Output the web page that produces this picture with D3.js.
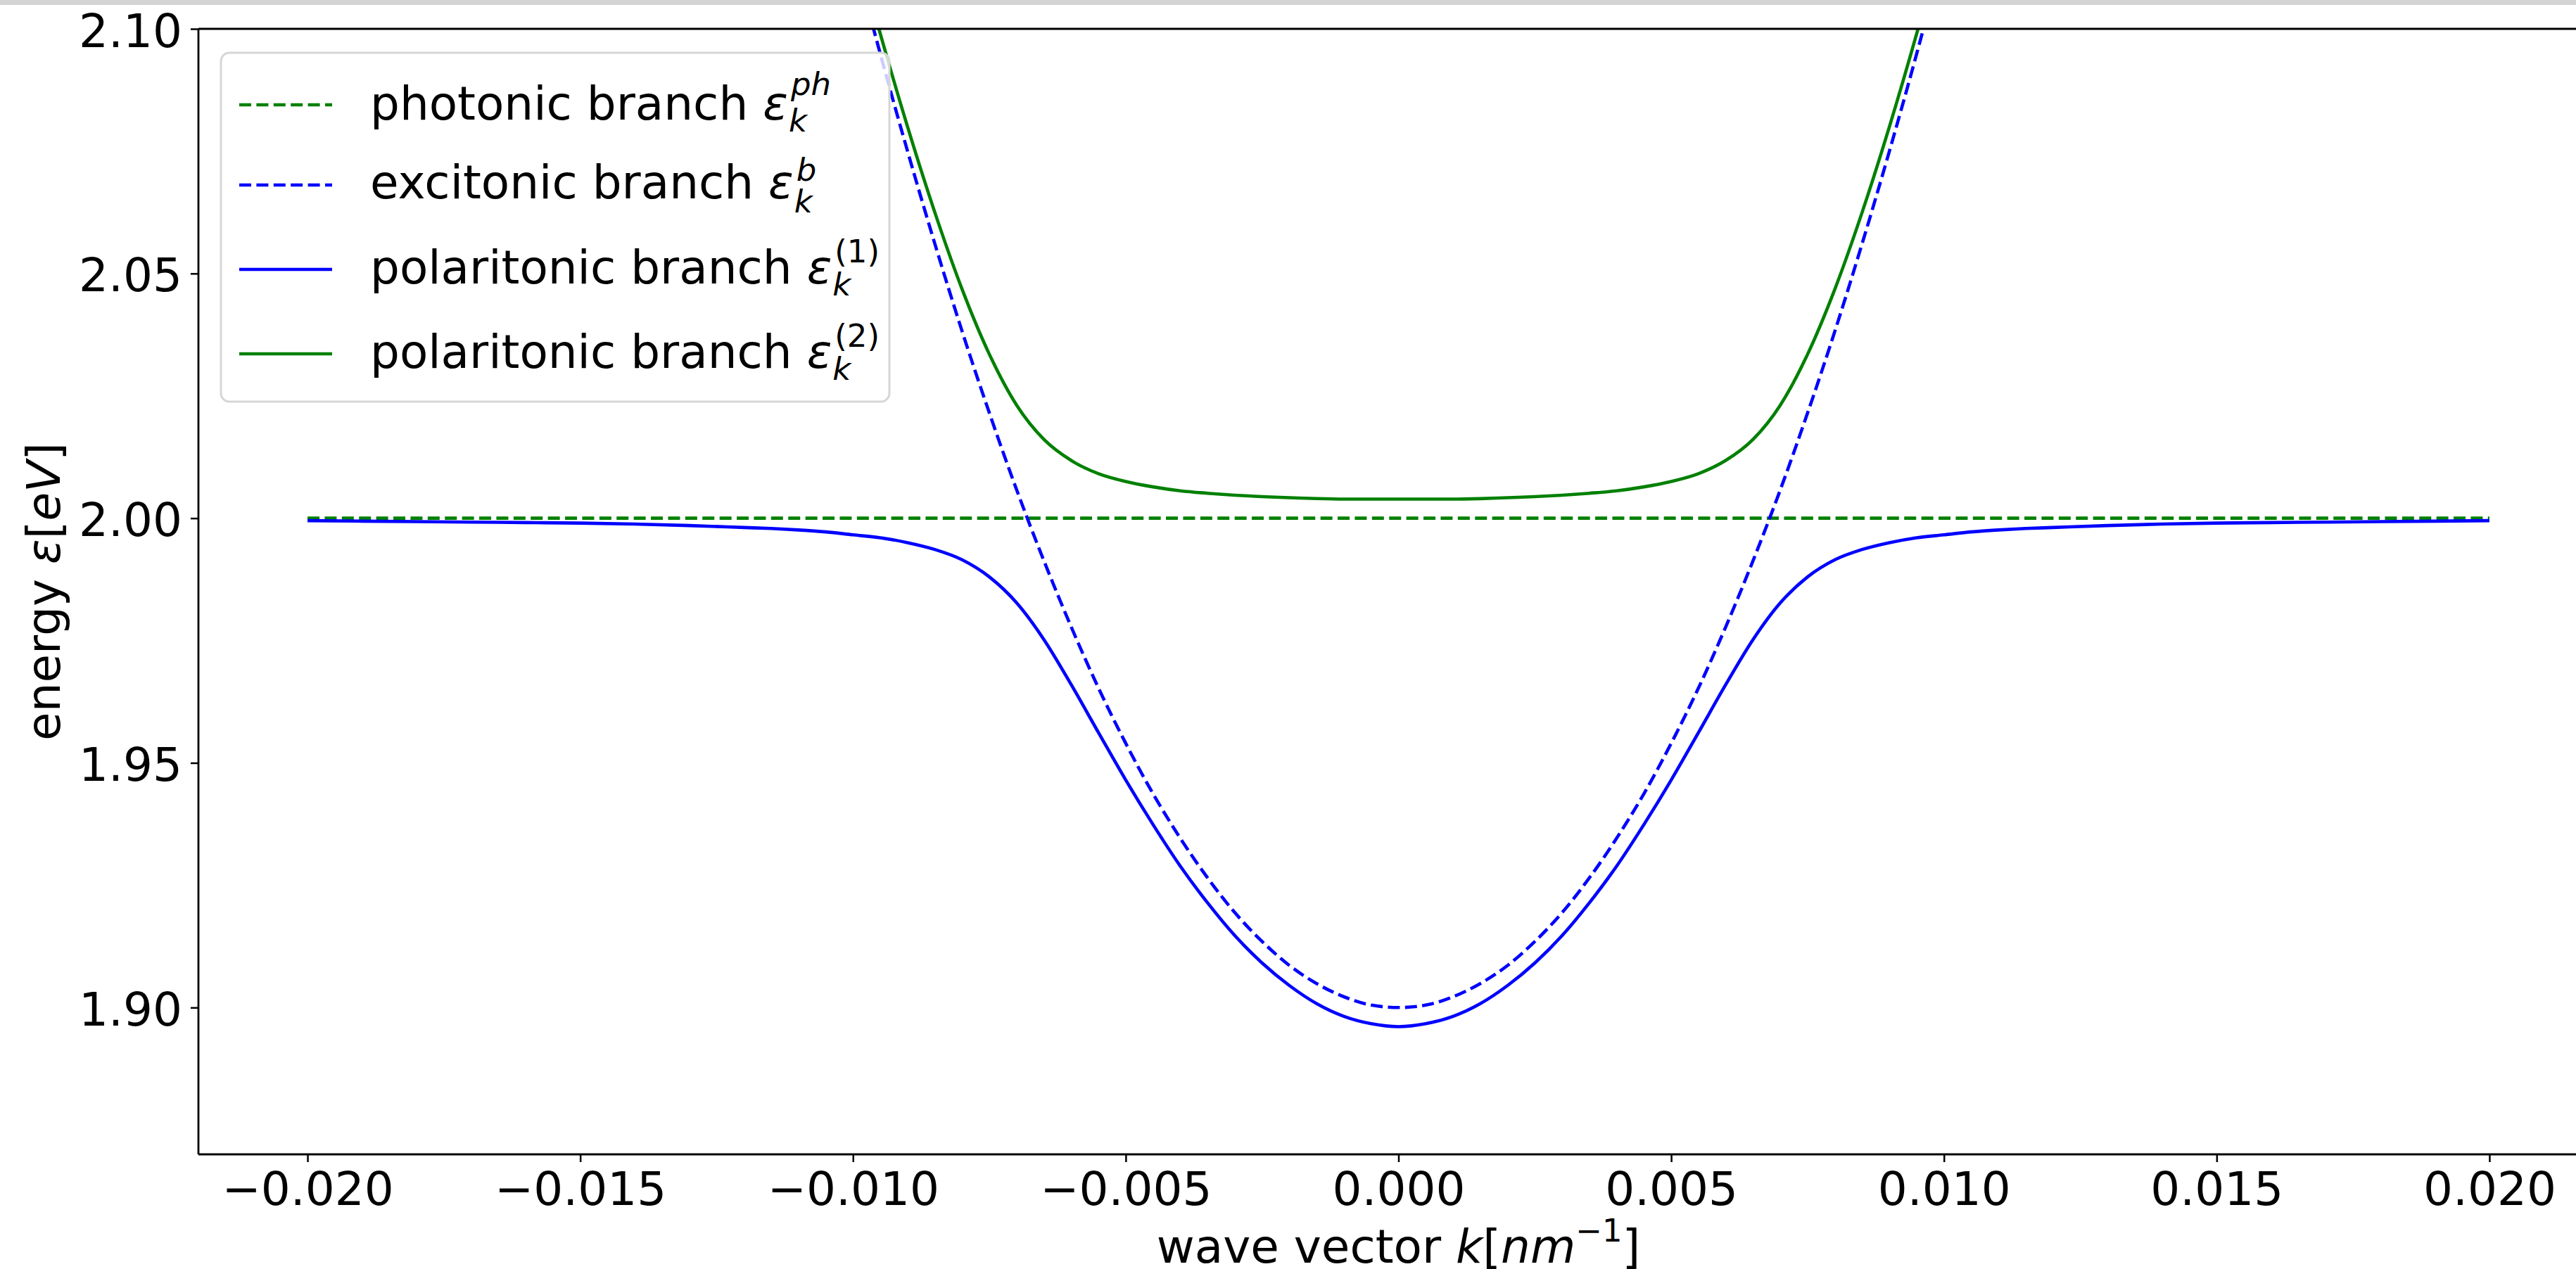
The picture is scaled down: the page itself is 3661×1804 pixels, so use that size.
<!DOCTYPE html>
<html>
<head>
<meta charset="utf-8">
<script src="https://cdn.jsdelivr.net/npm/d3@7"></script>
<style>
  html, body { margin: 0; padding: 0; background: #ffffff; }
  svg { display: block; }
  text { font-family: "DejaVu Sans", sans-serif; fill: #000; }
</style>
</head>
<body>
<svg id="chart" width="3661" height="1804"></svg>
<script>
// ---------------- data ----------------
const waveVector = [
  -0.020, -0.019, -0.018, -0.017, -0.016, -0.015, -0.014, -0.013,
  -0.0120, -0.0115, -0.0110, -0.0105, -0.0100, -0.0095, -0.0090, -0.0085,
  -0.0080, -0.0075, -0.0070, -0.0065, -0.0060, -0.0055, -0.0050, -0.0045,
  -0.0040, -0.0035, -0.0030, -0.0025, -0.0020, -0.0015, -0.0010, -0.0005,
  0.0000,
  0.0005, 0.0010, 0.0015, 0.0020, 0.0025, 0.0030, 0.0035, 0.0040,
  0.0045, 0.0050, 0.0055, 0.0060, 0.0065, 0.0070, 0.0075, 0.0080,
  0.0085, 0.0090, 0.0095, 0.0100, 0.0105, 0.0110, 0.0115, 0.0120,
  0.013, 0.014, 0.015, 0.016, 0.017, 0.018, 0.019, 0.020
];

// excitonic branch (dashed blue)
const excitonEnergy = [
  2.7640, 2.6798, 2.5998, 2.5242, 2.4530, 2.3860, 2.3234, 2.2650,
  2.2110, 2.1857, 2.1614, 2.1381, 2.1160, 2.0949, 2.0750, 2.0561,
  2.0382, 2.0215, 2.0058, 1.9913, 1.9778, 1.9653, 1.9540, 1.9437,
  1.9346, 1.9265, 1.9194, 1.9135, 1.9086, 1.9049, 1.9022, 1.9005,
  1.9000,
  1.9005, 1.9022, 1.9049, 1.9086, 1.9135, 1.9194, 1.9265, 1.9346,
  1.9437, 1.9540, 1.9653, 1.9778, 1.9913, 2.0058, 2.0215, 2.0382,
  2.0561, 2.0750, 2.0949, 2.1160, 2.1381, 2.1614, 2.1857, 2.2110,
  2.2650, 2.3234, 2.3860, 2.4530, 2.5242, 2.5998, 2.6798, 2.7640
];

// polaritonic branch (1) (solid blue, lower)
const polariton1Energy = [
  1.9995, 1.9994, 1.9993, 1.9992, 1.9991, 1.9990, 1.9988, 1.9985,
  1.9981, 1.9979, 1.9976, 1.9972, 1.9966, 1.9960, 1.9950, 1.9936,
  1.9915, 1.9880, 1.9827, 1.9752, 1.9660, 1.9562, 1.9465, 1.9374,
  1.9289, 1.9214, 1.9147, 1.9091, 1.9045, 1.9008, 1.8982, 1.8967,
  1.8961,
  1.8967, 1.8982, 1.9008, 1.9045, 1.9091, 1.9147, 1.9214, 1.9289,
  1.9374, 1.9465, 1.9562, 1.9660, 1.9752, 1.9827, 1.9880, 1.9915,
  1.9936, 1.9950, 1.9960, 1.9966, 1.9972, 1.9976, 1.9979, 1.9981,
  1.9985, 1.9988, 1.9990, 1.9991, 1.9992, 1.9993, 1.9994, 1.9995
];

// polaritonic branch (2) (solid green, upper)
const polariton2Energy = [
  2.7645, 2.6803, 2.6005, 2.5250, 2.4538, 2.3870, 2.3246, 2.2665,
  2.2129, 2.1878, 2.1638, 2.1410, 2.1194, 2.0990, 2.0800, 2.0625,
  2.0468, 2.0335, 2.0231, 2.0161, 2.0118, 2.0091, 2.0075, 2.0064,
  2.0056, 2.0051, 2.0047, 2.0044, 2.0042, 2.0040, 2.0039, 2.0039,
  2.0039,
  2.0039, 2.0039, 2.0040, 2.0042, 2.0044, 2.0047, 2.0051, 2.0056,
  2.0064, 2.0075, 2.0091, 2.0118, 2.0161, 2.0231, 2.0335, 2.0468,
  2.0625, 2.0800, 2.0990, 2.1194, 2.1410, 2.1638, 2.1878, 2.2129,
  2.2665, 2.3246, 2.3870, 2.4538, 2.5250, 2.6005, 2.6803, 2.7645
];

// photonic branch (dashed green, flat)
const photonWaveVector = [-0.020, 0.020];
const photonEnergy = [2.000, 2.000];

const xTicks = [-0.020, -0.015, -0.010, -0.005, 0.000, 0.005, 0.010, 0.015, 0.020];
const yTicks = [1.90, 1.95, 2.00, 2.05, 2.10];
const xDomain = [-0.022, 0.022];
const yDomain = [1.87, 2.10];

// ---------------- drawing ----------------
const W = 3661, H = 1804;
const plot = { left: 282, right: 3693, top: 41, bottom: 1641 };
const FONT = 66, SCRIPT = 45;

const svg = d3.select('#chart');
svg.append('rect').attr('x', 0).attr('y', 0).attr('width', W).attr('height', H).attr('fill', '#ffffff');
svg.append('rect').attr('x', 0).attr('y', 0).attr('width', W).attr('height', 7).attr('fill', '#d4d4d4');

const x = d3.scaleLinear().domain(xDomain).range([plot.left, plot.right]);
const y = d3.scaleLinear().domain(yDomain).range([plot.bottom, plot.top]);

svg.append('defs').append('clipPath').attr('id', 'plotclip')
  .append('rect')
  .attr('x', plot.left).attr('y', plot.top)
  .attr('width', plot.right - plot.left).attr('height', plot.bottom - plot.top);

const line = d3.line().x(d => x(d[0])).y(d => y(d[1])).curve(d3.curveMonotoneX);

const series = [
  { k: photonWaveVector, e: photonEnergy, color: '#008000', dash: '17,7.4' },
  { k: waveVector, e: excitonEnergy, color: '#0000ff', dash: '17,7.4' },
  { k: waveVector, e: polariton1Energy, color: '#0000ff', dash: null },
  { k: waveVector, e: polariton2Energy, color: '#008000', dash: null }
];

const gLines = svg.append('g').attr('clip-path', 'url(#plotclip)');
series.forEach(s => {
  gLines.append('path')
    .datum(s.k.map((kv, i) => [kv, s.e[i]]))
    .attr('d', line)
    .attr('fill', 'none')
    .attr('stroke', s.color)
    .attr('stroke-width', 4.6)
    .attr('stroke-dasharray', s.dash)
    .attr('stroke-linejoin', 'round');
});

// axes
const xAxis = d3.axisBottom(x).tickValues(xTicks).tickFormat(d3.format('.3f')).tickSize(11).tickPadding(14);
const gx = svg.append('g').attr('transform', `translate(0,${plot.bottom})`).call(xAxis);
const yAxis = d3.axisLeft(y).tickValues(yTicks).tickFormat(d3.format('.2f')).tickSize(11).tickPadding(12);
const gy = svg.append('g').attr('transform', `translate(${plot.left},0)`).call(yAxis);
[gx, gy].forEach(g => {
  g.select('.domain').remove();
  g.selectAll('.tick line').attr('stroke', '#000').attr('stroke-width', 2.5);
  g.selectAll('.tick text').attr('font-size', FONT).attr('font-family', 'DejaVu Sans').attr('fill', '#000');
});
gy.selectAll('.tick text').attr('dy', '0.38em');

// spines
const spines = svg.append('g').attr('stroke', '#000').attr('stroke-width', 2.8).attr('fill', 'none');
spines.append('line').attr('x1', plot.left).attr('x2', plot.left).attr('y1', plot.top).attr('y2', plot.bottom);
spines.append('line').attr('x1', plot.left).attr('x2', plot.right).attr('y1', plot.bottom).attr('y2', plot.bottom);
spines.append('line').attr('x1', plot.left).attr('x2', plot.right).attr('y1', plot.top).attr('y2', plot.top);
spines.append('line').attr('x1', plot.right).attr('x2', plot.right).attr('y1', plot.top).attr('y2', plot.bottom);

// axis labels
const xl = svg.append('text')
  .attr('x', (plot.left + plot.right) / 2).attr('y', 1795)
  .attr('text-anchor', 'middle').attr('font-size', FONT);
xl.append('tspan').text('wave vector ');
xl.append('tspan').attr('font-style', 'italic').text('k');
xl.append('tspan').text('[');
xl.append('tspan').attr('font-style', 'italic').text('nm');
xl.append('tspan').attr('font-size', SCRIPT).attr('dy', -30).text('\u22121');
xl.append('tspan').attr('dy', 30).text(']');

const yl = svg.append('text')
  .attr('transform', `translate(85,${(plot.top + plot.bottom) / 2}) rotate(-90)`)
  .attr('text-anchor', 'middle').attr('font-size', FONT);
yl.append('tspan').text('energy ');
yl.append('tspan').attr('font-style', 'italic').text('\u03b5');
yl.append('tspan').text('[');
yl.append('tspan').attr('font-style', 'italic').text('eV');
yl.append('tspan').text(']');

// legend
const legendRows = [
  { label: 'photonic branch ', sup: 'ph', supItalic: true, color: '#008000', dash: '17,7.4', ly: 149, by: 170, subDy: 17, supDy: -35 },
  { label: 'excitonic branch ', sup: 'b', supItalic: true, color: '#0000ff', dash: '17,7.4', ly: 263, by: 282, subDy: 20, supDy: -25 },
  { label: 'polaritonic branch ', sup: '(1)', supItalic: false, color: '#0000ff', dash: null, ly: 383, by: 403, subDy: 17, supDy: -30 },
  { label: 'polaritonic branch ', sup: '(2)', supItalic: false, color: '#008000', dash: null, ly: 503, by: 523, subDy: 17, supDy: -30 }
];
const gLeg = svg.append('g');
gLeg.append('rect')
  .attr('x', 314).attr('y', 75).attr('width', 950).attr('height', 496)
  .attr('rx', 12).attr('ry', 12)
  .attr('fill', '#ffffff').attr('fill-opacity', 0.8)
  .attr('stroke', '#d6d6d6').attr('stroke-width', 3);
legendRows.forEach(r => {
  gLeg.append('line')
    .attr('x1', 340).attr('x2', 472).attr('y1', r.ly).attr('y2', r.ly)
    .attr('stroke', r.color).attr('stroke-width', 4.6)
    .attr('stroke-dasharray', r.dash);
  const t = gLeg.append('text').attr('x', 526).attr('y', r.by).attr('font-size', FONT);
  t.append('tspan').text(r.label);
  t.append('tspan').attr('font-style', 'italic').text('\u03b5');
  const end = 526 + t.node().getComputedTextLength();
  gLeg.append('text').attr('x', end + 1).attr('y', r.by + r.subDy)
    .attr('font-size', SCRIPT).attr('font-style', 'italic').text('k');
  gLeg.append('text').attr('x', end + 4).attr('y', r.by + r.supDy)
    .attr('font-size', SCRIPT).attr('font-style', r.supItalic ? 'italic' : 'normal').text(r.sup);
});
</script>
</body>
</html>
